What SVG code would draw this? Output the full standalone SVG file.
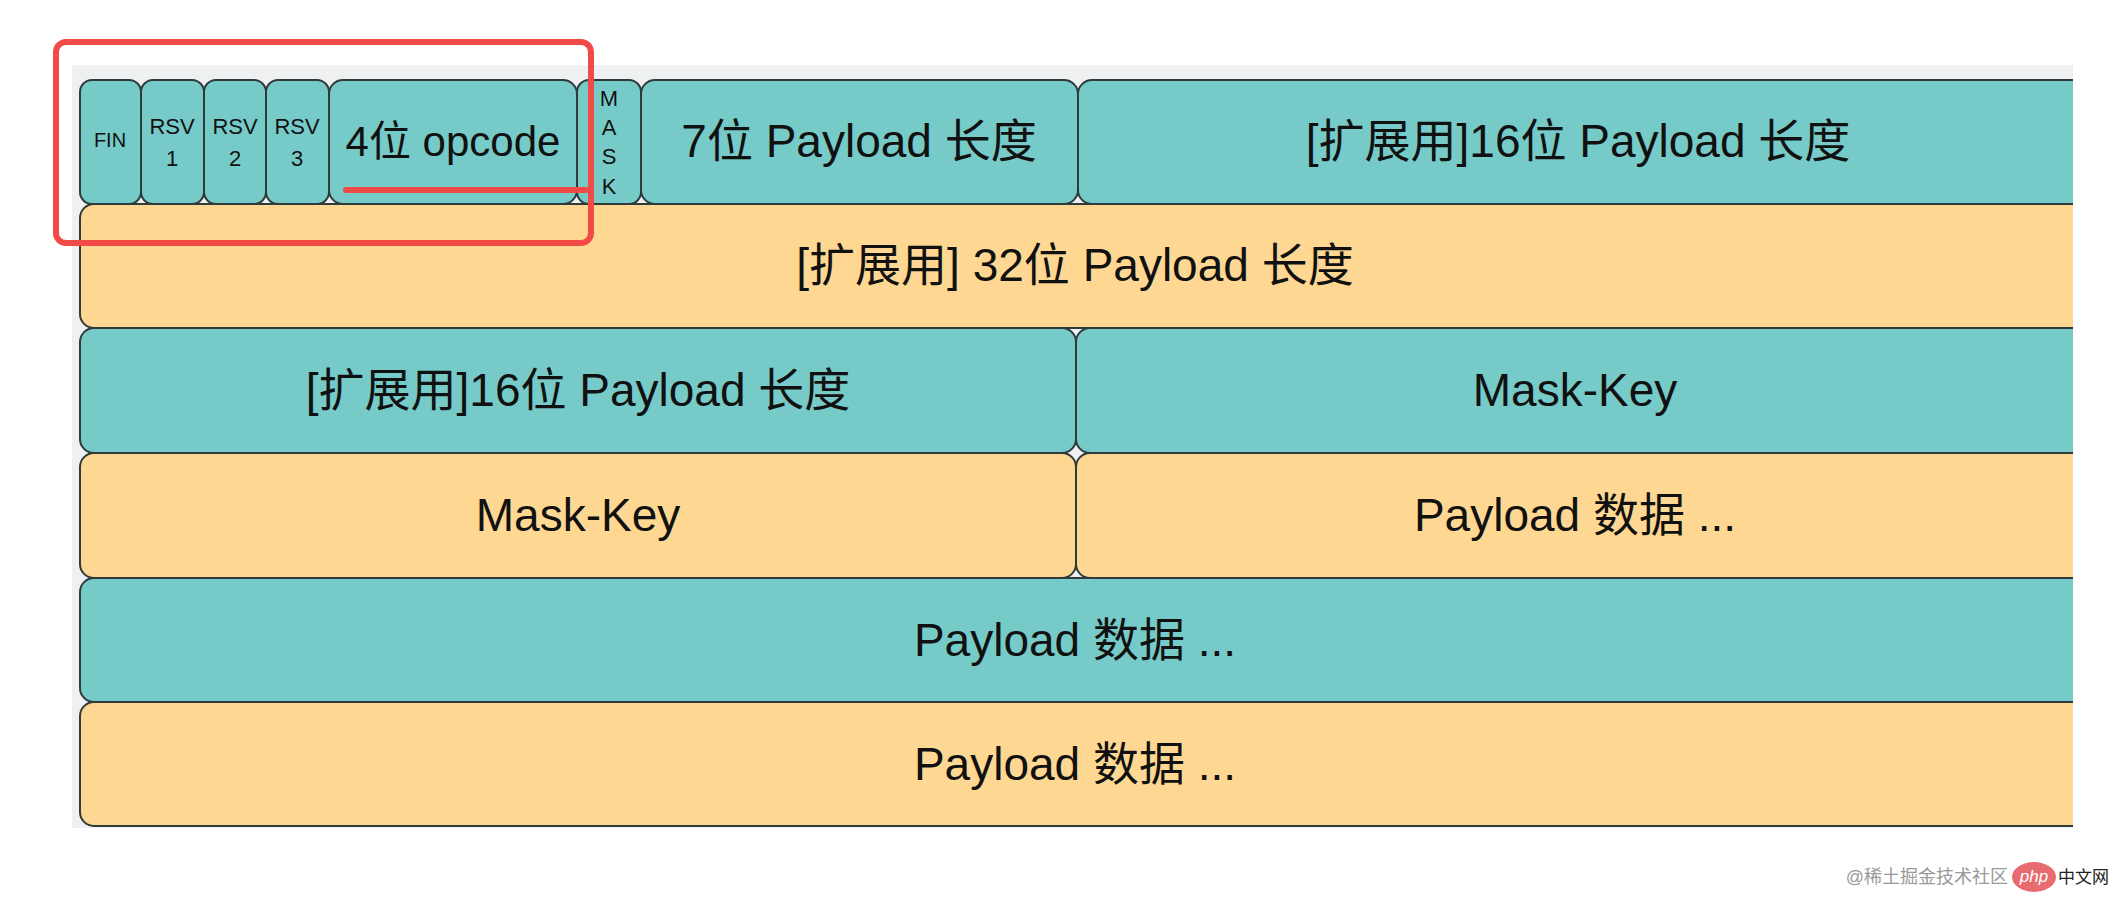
<svg xmlns="http://www.w3.org/2000/svg" width="2122" height="910" viewBox="0 0 2122 910">
<style>
.t{fill:#76CBC8;stroke:#2f3a3a;stroke-width:2}
.o{fill:#FED792;stroke:#2f3a3a;stroke-width:2}
text{font-family:"Liberation Sans","Noto Sans CJK SC",sans-serif;fill:#111;text-anchor:middle;dominant-baseline:central}
.b{font-size:46px}
.s{font-size:22px}
</style>
<defs><clipPath id="c"><rect x="72" y="65" width="2001" height="763"/></clipPath></defs>
<rect width="2122" height="910" fill="#fff"/>
<rect x="72" y="65" width="2001" height="763" fill="#eef0f2"/>
<g clip-path="url(#c)">
<g id="fin"><rect class="t" x="80" y="80" width="61" height="124" rx="12"/><text x="110" y="140" class="s" style="font-size:20px">FIN</text></g>
<g id="rsv1"><rect class="t" x="141" y="80" width="63" height="124" rx="12"/><text x="172" y="126" class="s">RSV</text><text x="172" y="158" class="s">1</text></g>
<g id="rsv2"><rect class="t" x="204" y="80" width="62" height="124" rx="12"/><text x="235" y="126" class="s">RSV</text><text x="235" y="158" class="s">2</text></g>
<g id="rsv3"><rect class="t" x="266" y="80" width="63" height="124" rx="12"/><text x="297" y="126" class="s">RSV</text><text x="297" y="158" class="s">3</text></g>
<g id="opcode"><rect class="t" x="329" y="80" width="248" height="124" rx="14"/><text x="453" y="141" class="b" style="font-size:42px">4位 opcode</text></g>
<g id="mask"><rect class="t" x="577" y="80" width="64" height="124" rx="12"/><text x="609" y="98" class="s">M</text><text x="609" y="127" class="s">A</text><text x="609" y="156" class="s">S</text><text x="609" y="186" class="s">K</text></g>
<g id="len7"><rect class="t" x="641" y="80" width="437" height="124" rx="14"/><text x="859" y="141" class="b">7位 Payload 长度</text></g>
<g id="len16a"><rect class="t" x="1078" y="80" width="1020" height="124" rx="14"/><text x="1578" y="141" class="b">[扩展用]16位 Payload 长度</text></g>
<g id="len32"><rect class="o" x="80" y="204" width="2018" height="124" rx="14"/><text x="1075" y="265" class="b">[扩展用] 32位 Payload 长度</text></g>
<g id="len16b"><rect class="t" x="80" y="328" width="996" height="125" rx="14"/><text x="578" y="390" class="b">[扩展用]16位 Payload 长度</text></g>
<g id="maskkey1"><rect class="t" x="1076" y="328" width="1022" height="125" rx="14"/><text x="1575" y="390" class="b">Mask-Key</text></g>
<g id="maskkey2"><rect class="o" x="80" y="453" width="996" height="125" rx="14"/><text x="578" y="515" class="b">Mask-Key</text></g>
<g id="data1"><rect class="o" x="1076" y="453" width="1022" height="125" rx="14"/><text x="1575" y="515" class="b">Payload 数据 ...</text></g>
<g id="data2"><rect class="t" x="80" y="578" width="2018" height="124" rx="14"/><text x="1075" y="640" class="b">Payload 数据 ...</text></g>
<g id="data3"><rect class="o" x="80" y="702" width="2018" height="124" rx="14"/><text x="1075" y="764" class="b">Payload 数据 ...</text></g>
</g>
<g id="connectors"></g>
<g id="highlight" fill="none" stroke="#f24b47" stroke-width="6" stroke-linecap="round">
<rect x="56" y="42" width="535" height="201" rx="10"/>
<line x1="346" y1="190" x2="586" y2="190"/>
</g>
<g id="watermark">
<text x="2008" y="877" style="font-size:18px;fill:#999;text-anchor:end">@稀土掘金技术社区</text>
<ellipse cx="2034" cy="877" rx="22" ry="15" fill="#e86b6f"/>
<text x="2034" y="876" style="font-size:17px;fill:#fff;font-style:italic">php</text>
<text x="2058" y="877" style="font-size:17px;fill:#222;text-anchor:start">中文网</text>
</g>
</svg>
